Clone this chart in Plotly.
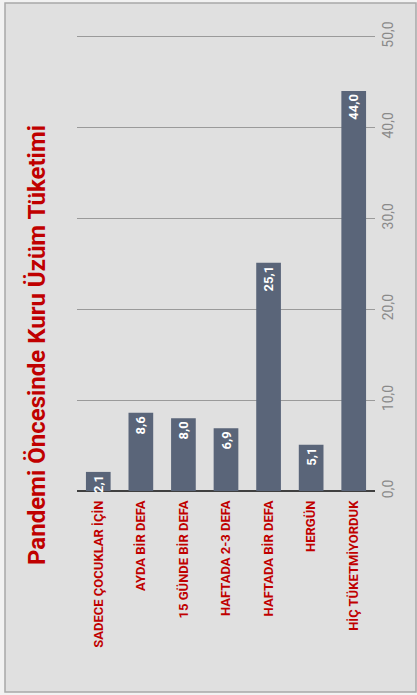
import plotly.graph_objects as go

categories = ["SADECE ÇOCUKLAR İÇİN", "AYDA BİR DEFA", "15 GÜNDE BİR DEFA",
              "HAFTADA 2-3 DEFA", "HAFTADA BİR DEFA", "HERGÜN", "HİÇ TÜKETMİYORDUK"]
values = [2.1, 8.6, 8.0, 6.9, 25.1, 5.1, 44.0]
tick_vals = [0, 10, 20, 30, 40, 50]
tick_text = ["0,0", "10,0", "20,0", "30,0", "40,0", "50,0"]
title_text = "Pandemi Öncesinde Kuru Üzüm Tüketimi"

W, H = 417, 695
L, R, T, B = 77, 42, 32, 204
pw, ph = W - L - R, H - T - B

def px_x(x):
    return (x - L) / pw

def px_y(y):
    return (H - B - y) / ph

fig = go.Figure()
fig.add_trace(go.Bar(
    x=categories, y=values,
    marker=dict(color="#5a6579", line=dict(width=0)),
    texttemplate="%{y:.1f}",
    textposition="inside",
    insidetextanchor="end",
    textangle=-90,
    constraintext="none",
    textfont=dict(family="Roboto", size=13, color="white", weight="bold"),
    cliponaxis=False,
    hoverinfo="skip",
))

fig.update_layout(
    width=W, height=H,
    margin=dict(l=L, r=R, t=T, b=B, pad=0),
    paper_bgcolor="#f2f2f2",
    plot_bgcolor="rgba(0,0,0,0)",
    separators=",.",
    bargap=0.42,
    showlegend=False,
    font=dict(family="Roboto"),
    xaxis=dict(
        tickangle=-90,
        tickfont=dict(family="Roboto", size=13, color="#c00000", weight="bold"),
        showgrid=False, zeroline=False,
        showline=False, ticks="",
        ticklabelstandoff=6,
        automargin=False,
    ),
    yaxis=dict(
        range=[0, 50.5], tickvals=tick_vals, ticktext=tick_text,
        side="right", tickangle=-90,
        tickfont=dict(family="Roboto", size=14, color="#8a8a8a"),
        showgrid=True, gridcolor="#9a9a9a", gridwidth=1,
        zeroline=True, zerolinecolor="#404040", zerolinewidth=2,
        showline=False, ticks="",
        ticklabelstandoff=3,
        automargin=False,
    ),
    annotations=[dict(
        text=title_text, xref="paper", yref="paper",
        x=px_x(37), y=px_y(345), xanchor="center", yanchor="middle",
        textangle=-90, showarrow=False,
        font=dict(family="Roboto", size=24, color="#c00000", weight="bold"),
    )],
    shapes=[dict(
        type="rect", xref="paper", yref="paper", layer="below",
        x0=px_x(5), x1=px_x(416), y0=px_y(692), y1=px_y(3),
        line=dict(color="#a8a8a8", width=1.5), fillcolor="#e0e0e0",
    )],
)

fig.write_html("out.html", config={"displayModeBar": False},
               post_script="document.body.style.margin='0';")
